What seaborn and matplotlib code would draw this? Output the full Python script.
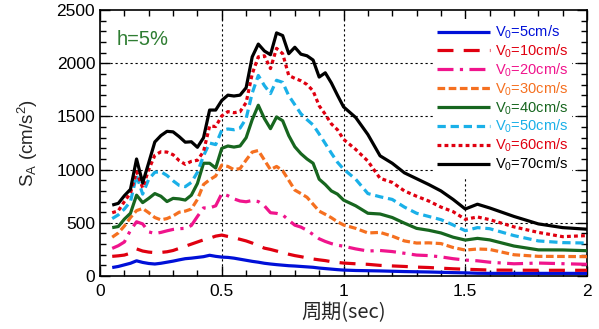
import numpy as np
import pandas as pd
import matplotlib
matplotlib.use("Agg")
import matplotlib.pyplot as plt
from matplotlib.ticker import MultipleLocator, FixedLocator
import seaborn as sns

period = [0.05, 0.075, 0.1, 0.125, 0.15, 0.175, 0.2, 0.225, 0.25, 0.275, 0.3, 0.325, 0.35,
          0.375, 0.4, 0.425, 0.45, 0.475, 0.5, 0.525, 0.55, 0.575, 0.6, 0.625, 0.65, 0.675,
          0.7, 0.725, 0.75, 0.775, 0.8, 0.825, 0.85, 0.875, 0.9, 0.925, 0.95, 0.975, 1.0,
          1.05, 1.1, 1.15, 1.2, 1.25, 1.3, 1.35, 1.4, 1.45, 1.5, 1.55, 1.6, 1.7, 1.8, 1.9, 2.0]

sa_v5 = [80, 90, 105, 120, 143, 128, 118, 113, 120, 130, 140, 152, 163,
         168, 175, 182, 195, 185, 178, 175, 168, 158, 148, 138, 130, 120,
         113, 107, 102, 97, 94, 90, 86, 82, 75, 70, 65, 60, 56,
         52, 50, 48, 45, 42, 40, 38, 35, 32, 30, 26, 25, 25, 25, 25, 25]
sa_v10 = [185, 190, 197, 215, 255, 235, 225, 220, 222, 228, 240, 260, 280,
          300, 320, 340, 355, 375, 385, 372, 360, 345, 330, 310, 285, 262,
          250, 235, 220, 205, 192, 182, 170, 160, 152, 145, 135, 128, 122,
          115, 110, 100, 95, 90, 84, 80, 74, 68, 64, 60, 56, 55, 54, 54, 54]
sa_v20 = [260, 285, 320, 430, 510, 490, 415, 400, 410, 425, 438, 445, 448,
          475, 560, 640, 640, 660, 775, 755, 725, 705, 698, 710, 700, 660,
          595, 589, 575, 525, 478, 460, 430, 390, 350, 325, 305, 290, 280,
          255, 235, 240, 230, 214, 197, 192, 180, 163, 150, 143, 130, 115, 122, 116, 110]
sa_v30 = [365, 405, 470, 550, 615, 635, 595, 550, 528, 540, 565, 600, 610,
          630, 720, 860, 905, 940, 1043, 1030, 1000, 1010, 1090, 1165, 1180, 1090,
          1000, 1030, 990, 900, 808, 775, 740, 675, 610, 580, 548, 510, 480,
          448, 405, 410, 375, 330, 310, 312, 305, 268, 244, 254, 250, 200, 185, 184, 182]
sa_v40 = [455, 465, 535, 590, 760, 690, 730, 775, 750, 700, 730, 725, 714,
          760, 870, 1060, 1060, 1015, 1200, 1222, 1212, 1222, 1300, 1470, 1605, 1480,
          1385, 1495, 1460, 1320, 1215, 1150, 1100, 1060, 910, 860, 800, 770, 714,
          660, 590, 583, 550, 497, 448, 430, 405, 365, 338, 354, 340, 282, 246, 245, 238]
sa_v50 = [540, 575, 630, 700, 945, 770, 910, 975, 980, 945, 895, 852, 840,
          880, 975, 1130, 1250, 1235, 1370, 1382, 1375, 1390, 1480, 1720, 1885, 1790,
          1715, 1840, 1820, 1695, 1610, 1525, 1470, 1420, 1335, 1245, 1155, 1070, 1005,
          910, 775, 745, 720, 648, 590, 560, 530, 480, 426, 455, 445, 380, 330, 314, 310]
sa_v60 = [595, 613, 700, 780, 980, 830, 1000, 1135, 1168, 1165, 1140, 1085, 1050,
          1078, 1088, 1170, 1410, 1405, 1505, 1545, 1535, 1545, 1630, 1900, 2060, 2070,
          1950, 2140, 2090, 1885, 1858, 1835, 1800, 1740, 1600, 1520, 1430, 1375, 1285,
          1190, 1080, 918, 880, 800, 750, 705, 648, 605, 533, 555, 530, 462, 410, 370, 380]
sa_v70 = [667, 683, 755, 815, 1100, 875, 1065, 1260, 1320, 1360, 1355, 1310, 1258,
          1262, 1210, 1300, 1560, 1560, 1650, 1700, 1692, 1700, 1770, 2060, 2180, 2115,
          2080, 2285, 2260, 2090, 2150, 2085, 2070, 2030, 1870, 1910, 1815, 1700, 1590,
          1490, 1330, 1130, 1060, 970, 915, 860, 800, 720, 630, 675, 640, 560, 490, 455, 440]

labels = [r"V$_0$=5cm/s", r"V$_0$=10cm/s", r"V$_0$=20cm/s", r"V$_0$=30cm/s",
          r"V$_0$=40cm/s", r"V$_0$=50cm/s", r"V$_0$=60cm/s", r"V$_0$=70cm/s"]
series = [sa_v5, sa_v10, sa_v20, sa_v30, sa_v40, sa_v50, sa_v60, sa_v70]

x_ticks = [0, 0.5, 1, 1.5, 2]
x_ticklabels = ["0", "0.5", "1", "1.5", "2"]
y_ticks = [0, 500, 1000, 1500, 2000, 2500]

colors = ["#0010d8", "#e00010", "#f0148c", "#f57020", "#17661f", "#1ab0e8", "#e00010", "#000000"]
dash_styles = [None, (5, 3.2), (5, 2, 1, 2), (2.4, 1.1), None, (2.6, 1.5), (1.2, 1.0), None]

sns.set_theme(style="ticks")
plt.rcParams["font.family"] = ["Liberation Sans", "Noto Sans CJK JP", "DejaVu Sans"]
plt.rcParams["mathtext.fontset"] = "custom"
plt.rcParams["mathtext.rm"] = "Liberation Sans"
plt.rcParams["mathtext.it"] = "Liberation Sans:italic"
plt.rcParams["mathtext.bf"] = "Liberation Sans:bold"

fig = plt.figure(figsize=(5.99, 3.29), dpi=100)
ax = fig.add_axes([0.167, 0.161, 0.813, 0.8085])

for vals, lab, col, ds in zip(series, labels, colors, dash_styles):
    df = pd.DataFrame({"period": period, "sa": vals})
    sns.lineplot(data=df, x="period", y="sa", ax=ax, color=col, lw=2.3, label=lab,
                 zorder=3)
    line = ax.get_lines()[-1]
    if ds is not None:
        line.set_dashes(ds)
    line.set_solid_capstyle("butt")
    line.set_dash_capstyle("butt")

ax.set_xlim(0, 2)
ax.set_ylim(0, 2500)
ax.xaxis.set_major_locator(FixedLocator(x_ticks))
ax.set_xticklabels(x_ticklabels)
ax.xaxis.set_minor_locator(MultipleLocator(0.1))
ax.yaxis.set_major_locator(FixedLocator(y_ticks))
ax.yaxis.set_minor_locator(MultipleLocator(100))
ax.tick_params(which="both", direction="in", top=True, right=True, colors="black",
               labelsize=12.5)
ax.tick_params(which="major", length=7, width=1)
ax.tick_params(which="minor", length=4, width=1)
ax.tick_params(axis="x", pad=6)
for s in ax.spines.values():
    s.set_color("black")
    s.set_linewidth(1.2)

for xv in [0.5, 1, 1.5]:
    ax.axvline(xv, color="black", lw=0.8, ls=(0, (2, 2.5)), zorder=1)
for yv in [500, 1000, 1500, 2000]:
    ax.axhline(yv, color="black", lw=0.8, ls=(0, (2, 2.5)), zorder=1)

ax.set_xlabel("周期(sec)", fontsize=14.5, family=["Noto Sans CJK JP", "DejaVu Sans"], labelpad=2)
ax.set_ylabel(r"S$_\mathrm{A}$ (cm/s$^2$)", fontsize=13.5, labelpad=12)

ax.text(0.035, 0.925, "h=5%", transform=ax.transAxes, fontsize=14.5, color="#2e7d32",
        ha="left", va="top")

leg = ax.legend(loc="upper right", bbox_to_anchor=(0.97, 0.965), fontsize=10.5,
                frameon=True, framealpha=1, facecolor="white", edgecolor="none",
                handlelength=3.6, handletextpad=0.35, labelspacing=0.1,
                borderpad=0.3, borderaxespad=0.0, fancybox=False)
leg.set_zorder(5)
for txt, col in zip(leg.get_texts(), colors):
    txt.set_color(col)

fig.savefig("out.png", dpi=100)
